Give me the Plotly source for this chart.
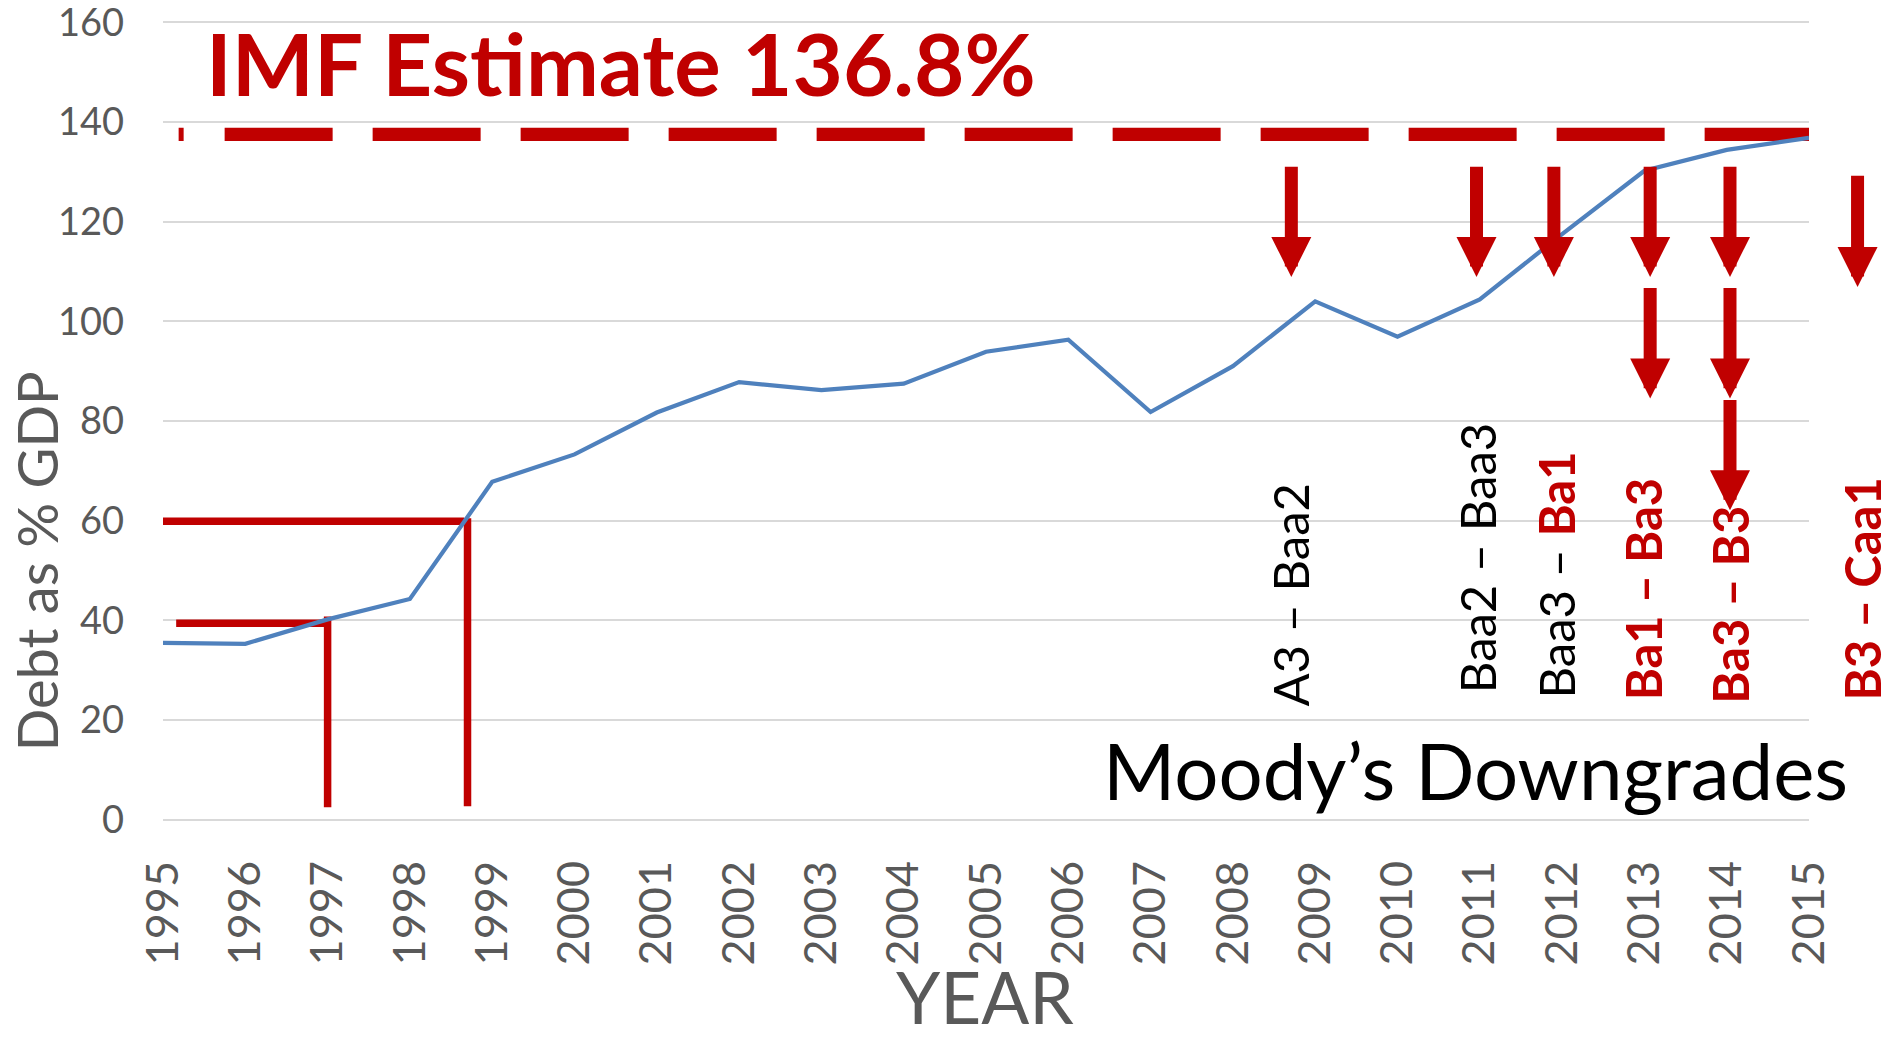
import plotly.graph_objects as go

# ---------------- data ----------------
years = list(range(1995, 2016))
debt_pct_gdp = [35.5, 35.3, 40.2, 44.3, 67.8, 73.3, 81.7, 87.8, 86.2, 87.5,
                93.9, 96.3, 81.8, 91.0, 104.0, 96.9, 104.4, 117.5, 130.2, 134.4, 136.8]

imf_label = "IMF Estimate 136.8%"
imf_line_x = [1995.19, 2015.0]
imf_line_y = [137.5, 137.5]

ref60_x = [1995.0, 1998.66, None, 1998.70, 1998.70]
ref60_y = [59.9, 59.9, None, 60.5, 2.7]
ref40_x = [1995.16, 1997.0, None, 1997.0, 1997.0]
ref40_y = [39.4, 39.4, None, 40.8, 2.5]

downgrade_labels = ["A3 – Baa2", "Baa2 – Baa3", "Baa3 – Ba1", "Ba1 – Ba3", "Ba3 – B3", "B3 – Caa1"]
downgrade_label_x = [2008.70, 2010.96, 2011.93, 2012.98, 2014.03, 2015.65]
downgrade_label_base = [22.4, 25.1, 24.1, 23.8, 23.1, 23.8]
downgrade_label_style = ["black", "black", "mixed", "red", "red", "red"]

arrow_x = [2008.71, 2010.96, 2011.90, 2013.07, 2014.04, 2013.07, 2014.04, 2014.04, 2015.59]
arrow_tail = [131.1, 131.1, 131.1, 131.1, 131.1, 106.8, 106.8, 84.3, 129.3]
arrow_tip = [108.9, 108.9, 108.9, 108.9, 108.9, 84.5, 84.5, 62.1, 106.9]

y_ticks = [0, 20, 40, 60, 80, 100, 120, 140, 160]

# ---------------- style ----------------
RED = "#C00000"
BLUE = "#4F81BD"
GRAY = "#595959"
GRID = "#D9D9D9"
FONT = "Lato"
X0, X1 = 1995, 2015
Y0, Y1 = -0.25, 160.25


def xpaper(v):
    return (v - X0) / (X1 - X0)


fig = go.Figure()

fig.add_trace(go.Scatter(x=ref60_x, y=ref60_y, mode="lines",
                         line=dict(color=RED, width=7.5), hoverinfo="skip"))
fig.add_trace(go.Scatter(x=ref40_x, y=ref40_y, mode="lines",
                         line=dict(color=RED, width=7.5), hoverinfo="skip"))

dash = "5px,41px," + ",".join(["108px,40px"] * 12)
fig.add_trace(go.Scatter(x=imf_line_x, y=imf_line_y, mode="lines",
                         line=dict(color=RED, width=13.3, dash=dash), hoverinfo="skip"))

fig.add_trace(go.Scatter(x=years, y=debt_pct_gdp, mode="lines",
                         line=dict(color=BLUE, width=4.2)))

annotations = []

# IMF estimate title
annotations.append(dict(text="<b>" + imf_label + "</b>", xref="paper", yref="y",
                        x=xpaper(1995.51), y=151.9, xanchor="left", yanchor="middle",
                        showarrow=False, borderpad=0,
                        font=dict(family=FONT, size=87, color=RED)))

# Moody's downgrades
annotations.append(dict(text="Moody’s Downgrades", xref="x", yref="y",
                        x=2010.95, y=9.9, xanchor="center", yanchor="middle",
                        showarrow=False, borderpad=0,
                        font=dict(family=FONT, size=78, color="black")))

# Axis titles
annotations.append(dict(text="YEAR", xref="paper", yref="paper",
                        x=xpaper(2004.99), y=-0.2188, xanchor="center", yanchor="middle",
                        showarrow=False, borderpad=0,
                        font=dict(family=FONT, size=71, color=GRAY)))
annotations.append(dict(text="Debt as % GDP", xref="paper", yref="y",
                        x=-0.077, y=51.9, xanchor="center", yanchor="middle",
                        textangle=-90, showarrow=False, borderpad=0,
                        font=dict(family=FONT, size=56, color=GRAY)))

# Downgrade labels
for lab, lx, lb, st in zip(downgrade_labels, downgrade_label_x, downgrade_label_base, downgrade_label_style):
    if st == "black":
        txt = lab
    elif st == "red":
        txt = '<b><span style="color:%s">%s</span></b>' % (RED, lab)
    else:
        a, b = lab.split(" – ")
        txt = a + ' – <b><span style="color:%s">%s</span></b>' % (RED, b)
    annotations.append(dict(text=txt, xref="paper", yref="y", x=xpaper(lx), y=lb,
                            xanchor="center", yanchor="bottom", textangle=-90,
                            showarrow=False, borderpad=0,
                            font=dict(family=FONT, size=49, color="black")))

# Downgrade arrows
for axv, tail, tip in zip(arrow_x, arrow_tail, arrow_tip):
    annotations.append(dict(text="", xref="paper", yref="y", x=xpaper(axv), y=tip,
                            axref="pixel", ax=0, ayref="y", ay=tail,
                            showarrow=True, arrowhead=2, arrowwidth=13,
                            arrowsize=40 / (5 * 13), arrowcolor=RED, standoff=0,
                            borderpad=0, font=dict(size=1)))

fig.update_layout(
    width=1891, height=1039,
    margin=dict(l=163, r=82, t=21, b=218, autoexpand=False),
    paper_bgcolor="white", plot_bgcolor="white",
    showlegend=False,
    font=dict(family=FONT, color=GRAY),
    annotations=annotations,
    xaxis=dict(range=[X0, X1], tickvals=years, ticktext=[str(y) for y in years],
               tickangle=-90, showgrid=False, zeroline=False, showline=False,
               ticks="", ticklabelstandoff=30, ticklabeloverflow="allow",
               automargin=False,
               tickfont=dict(family=FONT, size=45, color=GRAY)),
    yaxis=dict(range=[Y0, Y1], tickvals=y_ticks, showgrid=True, gridcolor=GRID,
               gridwidth=1.6, zeroline=False, showline=False, ticks="",
               ticklabelstandoff=38, ticklabeloverflow="allow",
               automargin=False,
               tickfont=dict(family=FONT, size=38, color=GRAY)),
)

fig.write_html("out.html", config={"displayModeBar": False},
               post_script="document.body.style.margin='0px';")
